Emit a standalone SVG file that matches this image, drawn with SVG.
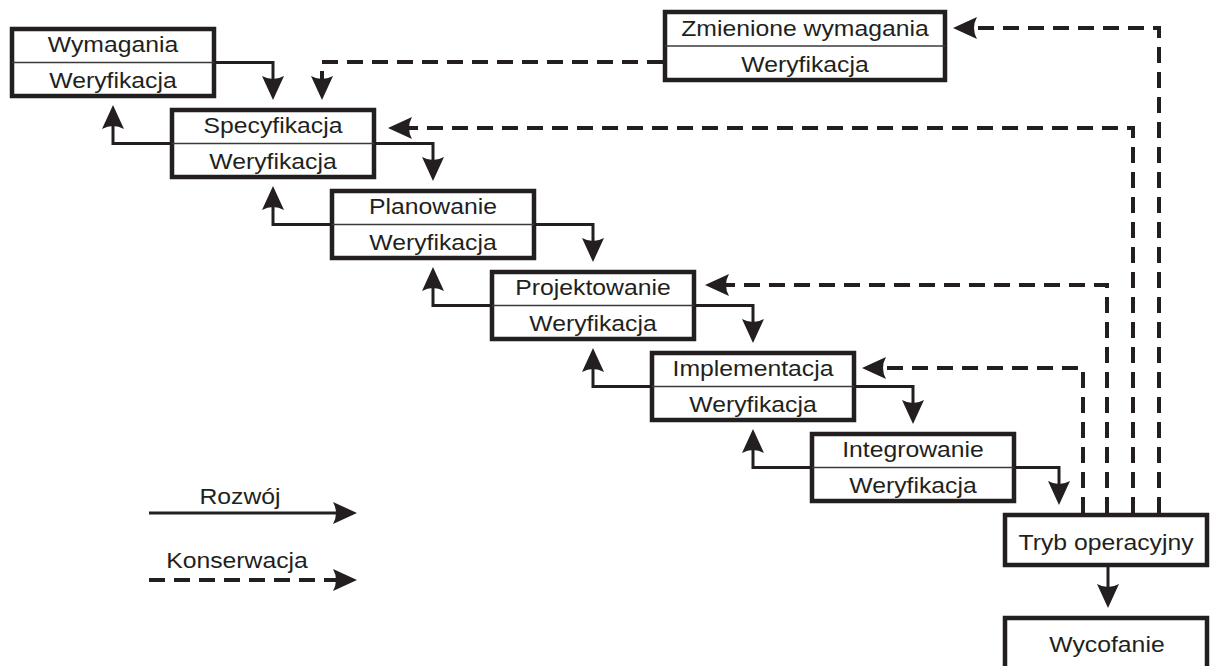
<svg xmlns="http://www.w3.org/2000/svg" width="1211" height="666" viewBox="0 0 1211 666">
  <style>
    .box { fill: #ffffff; stroke: #231f20; stroke-width: 4.5; }
    .div { stroke: #3a3a3a; stroke-width: 1.5; }
    .lbl { font-family: "Liberation Sans", Arial, sans-serif; font-size: 22.5px; fill: #231f20; text-anchor: middle; }
    .dev { fill: none; stroke: #231f20; stroke-width: 3; marker-end: url(#head); }
    .mnt { fill: none; stroke: #231f20; stroke-width: 4; stroke-dasharray: 16 9; marker-end: url(#head); }
  </style>
  <defs>
    <marker id="head" markerUnits="userSpaceOnUse" viewBox="0 -11 24 22" markerWidth="24" markerHeight="22" refX="5" refY="0" orient="auto">
      <path d="M24 0 L0 -11 Q6 0 0 11 Z" fill="#231f20"/>
    </marker>
  </defs>

  <rect width="1211" height="666" fill="#ffffff"/>

  <!-- connectors -->
  <g id="connectors">
    <!-- development flow: down the cascade -->
    <path class="dev" d="M214 62.5 H273 V81"/>
    <path class="dev" d="M375 143.5 H433 V162"/>
    <path class="dev" d="M535 224.5 H593 V243"/>
    <path class="dev" d="M694 305.5 H753 V324"/>
    <path class="dev" d="M854 386.5 H913 V405"/>
    <path class="dev" d="M1015 467.5 H1059 V486"/>
    <path class="dev" d="M1108 567 V589"/>
    <!-- verification feedback: back up the cascade -->
    <path class="dev" d="M172 143.5 H113 V124"/>
    <path class="dev" d="M332 224.5 H273 V205"/>
    <path class="dev" d="M492 305.5 H433 V286"/>
    <path class="dev" d="M652 386.5 H593 V367"/>
    <path class="dev" d="M812 467.5 H753 V448"/>
    <!-- maintenance loops -->
    <path class="mnt" d="M663 62 H322 V81"/>
    <path class="mnt" d="M1159 513 V28 H972"/>
    <path class="mnt" d="M1133 513 V128 H407"/>
    <path class="mnt" d="M1107 513 V285 H724"/>
    <path class="mnt" d="M1083 513 V368 H881"/>
    <!-- legend lines -->
    <path class="dev" d="M149 513 H338"/>
    <path class="mnt" d="M149 580 H338"/>
  </g>

  <g id="wymagania">
    <rect class="box" x="12" y="29" width="202" height="67"/>
    <line class="div" x1="12" y1="62.5" x2="214" y2="62.5"/>
    <text class="lbl" transform="translate(113 52) scale(1.1 1)">Wymagania</text>
    <text class="lbl" transform="translate(113 88) scale(1.1 1)">Weryfikacja</text>
  </g>

  <g id="specyfikacja">
    <rect class="box" x="172" y="110" width="202" height="67"/>
    <line class="div" x1="172" y1="143.5" x2="374" y2="143.5"/>
    <text class="lbl" transform="translate(273 133) scale(1.1 1)">Specyfikacja</text>
    <text class="lbl" transform="translate(273 169) scale(1.1 1)">Weryfikacja</text>
  </g>

  <g id="planowanie">
    <rect class="box" x="332" y="191" width="202" height="67"/>
    <line class="div" x1="332" y1="224.5" x2="534" y2="224.5"/>
    <text class="lbl" transform="translate(433 214) scale(1.1 1)">Planowanie</text>
    <text class="lbl" transform="translate(433 250) scale(1.1 1)">Weryfikacja</text>
  </g>

  <g id="projektowanie">
    <rect class="box" x="492" y="272" width="202" height="67"/>
    <line class="div" x1="492" y1="305.5" x2="694" y2="305.5"/>
    <text class="lbl" transform="translate(593 295) scale(1.1 1)">Projektowanie</text>
    <text class="lbl" transform="translate(593 331) scale(1.1 1)">Weryfikacja</text>
  </g>

  <g id="implementacja">
    <rect class="box" x="652" y="353" width="202" height="67"/>
    <line class="div" x1="652" y1="386.5" x2="854" y2="386.5"/>
    <text class="lbl" transform="translate(753 376) scale(1.1 1)">Implementacja</text>
    <text class="lbl" transform="translate(753 412) scale(1.1 1)">Weryfikacja</text>
  </g>

  <g id="integrowanie">
    <rect class="box" x="812" y="434" width="202" height="67"/>
    <line class="div" x1="812" y1="467.5" x2="1014" y2="467.5"/>
    <text class="lbl" transform="translate(913 457) scale(1.1 1)">Integrowanie</text>
    <text class="lbl" transform="translate(913 493) scale(1.1 1)">Weryfikacja</text>
  </g>

  <g id="zmienione-wymagania">
    <rect class="box" x="665" y="12" width="280" height="68"/>
    <line class="div" x1="665" y1="46" x2="945" y2="46"/>
    <text class="lbl" transform="translate(805 36) scale(1.1 1)">Zmienione wymagania</text>
    <text class="lbl" transform="translate(805 72) scale(1.1 1)">Weryfikacja</text>
  </g>

  <g id="tryb-operacyjny">
    <rect class="box" x="1005" y="515" width="202" height="50"/>
    <text class="lbl" transform="translate(1106 550) scale(1.1 1)">Tryb operacyjny</text>
  </g>

  <g id="wycofanie">
    <rect class="box" x="1005" y="618" width="202" height="70"/>
    <text class="lbl" transform="translate(1107 652) scale(1.1 1)">Wycofanie</text>
  </g>

  <g id="legend">
    <text class="lbl" transform="translate(240 504) scale(1.1 1)">Rozwój</text>
    <text class="lbl" transform="translate(237 568) scale(1.1 1)">Konserwacja</text>
  </g>
</svg>
